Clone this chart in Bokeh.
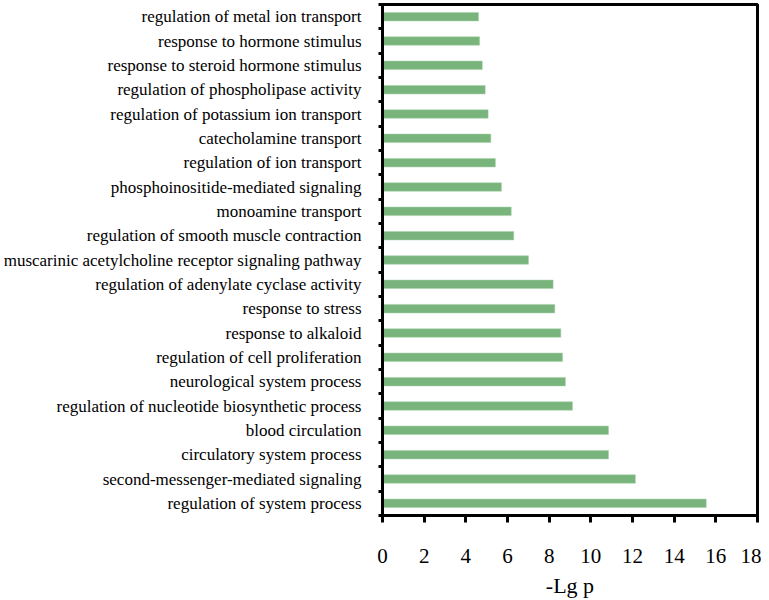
from bokeh.plotting import figure
from bokeh.models import FixedTicker, ColumnDataSource
from bokeh.embed import file_html
from bokeh.resources import INLINE

terms = [
    "regulation of metal ion transport",
    "response to hormone stimulus",
    "response to steroid hormone stimulus",
    "regulation of phospholipase activity",
    "regulation of potassium ion transport",
    "catecholamine transport",
    "regulation of ion transport",
    "phosphoinositide-mediated signaling",
    "monoamine transport",
    "regulation of smooth muscle contraction",
    "muscarinic acetylcholine receptor signaling pathway",
    "regulation of adenylate cyclase activity",
    "response to stress",
    "response to alkaloid",
    "regulation of cell proliferation",
    "neurological system process",
    "regulation of nucleotide biosynthetic process",
    "blood circulation",
    "circulatory system process",
    "second-messenger-mediated signaling",
    "regulation of system process",
]
neg_log_p = [4.61, 4.66, 4.79, 4.93, 5.07, 5.20, 5.42, 5.71, 6.18, 6.30, 7.01,
             8.19, 8.27, 8.56, 8.64, 8.78, 9.12, 10.85, 10.85, 12.14, 15.54]
x_ticks = [0, 2, 4, 6, 8, 10, 12, 14, 16, 18]

n = len(terms)
ypos = [n - i - 0.5 for i in range(n)]
src = ColumnDataSource(dict(y=ypos, v=neg_log_p, t=terms))

p = figure(width=761, height=600, output_backend="svg", toolbar_location=None,
           x_range=(0, 18), y_range=(0, n),
           min_border_left=380, min_border_right=4, min_border_top=4, min_border_bottom=80)

p.hbar(y="y", left=0, right="v", height=0.35, source=src,
       fill_color="#78b47c", line_color="#a9d2ab", line_width=0.5)

p.xgrid.visible = False
p.ygrid.visible = False
p.outline_line_color = "black"
p.outline_line_width = 3
p.outline_line_alpha = 1

font = "Liberation Serif"

xa = p.xaxis[0]
xa.ticker = FixedTicker(ticks=x_ticks, minor_ticks=[])
xa.axis_line_width = 3
xa.axis_line_color = "black"
xa.major_tick_line_width = 3
xa.major_tick_out = 7
xa.major_tick_in = 0
xa.minor_tick_line_color = None
xa.major_label_text_font = font
xa.major_label_text_font_size = "21px"
xa.major_label_text_color = "black"
xa.major_label_standoff = 26
xa.axis_label = "-Lg p"
xa.axis_label_text_font = font
xa.axis_label_text_font_size = "22px"
xa.axis_label_text_font_style = "normal"
xa.axis_label_text_color = "black"
xa.axis_label_standoff = 7

ya = p.yaxis[0]
ya.ticker = FixedTicker(ticks=ypos, minor_ticks=list(range(0, n + 1)))
ya.major_label_overrides = {y: t for y, t in zip(ypos, terms)}
ya.axis_line_width = 3
ya.axis_line_color = "black"
ya.major_tick_out = 0
ya.major_tick_in = 0
ya.major_tick_line_color = None
ya.minor_tick_out = 4
ya.minor_tick_in = 0
ya.minor_tick_line_width = 3
ya.minor_tick_line_color = "black"
ya.major_label_text_font = font
ya.major_label_text_font_size = "17px"
ya.major_label_text_color = "black"
ya.major_label_standoff = 17

open("out.html", "w").write(file_html(p, INLINE))
